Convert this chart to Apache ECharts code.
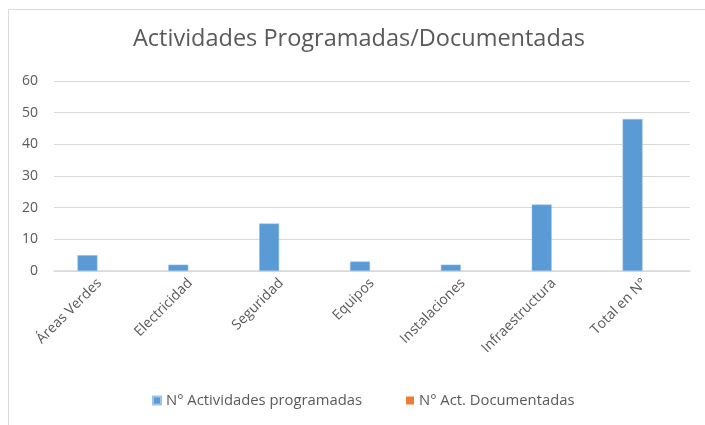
<!DOCTYPE html>
<html><head><meta charset="utf-8">
<script src="https://cdn.jsdelivr.net/npm/echarts@6/dist/echarts.min.js"></script>
<style>html,body{margin:0;padding:0;background:#fff}#c{width:705px;height:425px}</style>
</head><body><div id="c"></div>
<script>
const categories = ['Áreas Verdes','Electricidad','Seguridad','Equipos','Instalaciones','Infraestructura','Total en N°'];
const programadas = [5, 2, 15, 3, 2, 21, 48];
const documentadas = [0, 0, 0, 0, 0, 0, 0];
const yTicks = [0, 10, 20, 30, 40, 50, 60];
const font = 'Open Sans';
const chart = echarts.init(document.getElementById('c'));
chart.setOption({
  animation: false,
  textStyle: {fontFamily: font},
  graphic: [{type:'rect', shape:{x:8.5,y:9.5,width:720,height:440}, style:{fill:'none', stroke:'#d9d9d9', lineWidth:1}, silent:true}],
  title: {text:'Actividades Programadas/Documentadas', left:128, top:22,
    textStyle:{fontFamily:font, fontSize:23.5, fontWeight:'normal', color:'#595959'}},
  legend: {bottom:12, left:147, itemWidth:8, itemHeight:8, itemGap:44, icon:'rect',
    textStyle:{fontFamily:font, fontSize:14.8, color:'#595959'},
    data:['N° Actividades programadas','N° Act. Documentadas']},
  grid: {left:54, right:15, top:81, bottom:154},
  xAxis: {type:'category', data:categories,
    axisLine:{lineStyle:{color:'#d9d9d9', width:1.5}}, axisTick:{show:false},
    axisLabel:{rotate:45, fontFamily:font, fontSize:14, color:'#595959', margin:10, interval:0}},
  yAxis: {type:'value', min:yTicks[0], max:yTicks[yTicks.length-1], interval:10,
    axisLine:{show:false}, axisTick:{show:false},
    axisLabel:{fontFamily:font, fontSize:14, color:'#595959', margin:16},
    splitLine:{lineStyle:{color:'#d9d9d9', width:1}}},
  series: [
    {name:'N° Actividades programadas', type:'bar', data:programadas, barWidth:20, barGap:'20%',
      itemStyle:{color:'#5b9bd5', borderColor:'#9dc3e6', borderWidth:0.5}},
    {name:'N° Act. Documentadas', type:'bar', data:documentadas, barWidth:20,
      itemStyle:{color:'#ed7d31'}}
  ]
});
</script></body></html>
